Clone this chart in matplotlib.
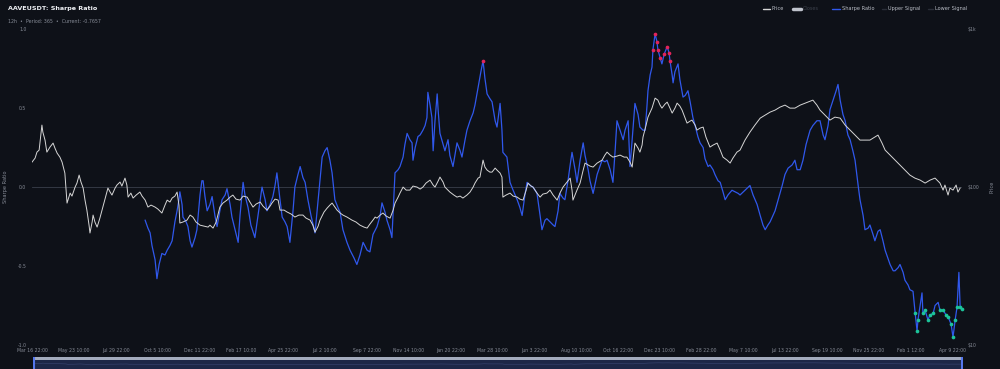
import matplotlib
matplotlib.use('Agg')
import matplotlib.pyplot as plt
from matplotlib.lines import Line2D
import numpy as np

plt.rcParams['font.family'] = ['DejaVu Sans']

# 12h bars since Mar 16 22:00
price_x = [0, 10, 16, 23, 32, 35, 42, 48, 58, 68, 74, 81, 90, 97, 106, 113, 123, 129, 139, 145,
           152, 158, 165, 171, 177, 184, 187, 194, 197, 203, 210, 219, 226, 235, 245, 252, 258, 268, 274, 284,
           290, 300, 306, 310, 319, 326, 336, 348, 355, 365, 374, 384, 397, 406, 419, 429, 436, 445, 452, 461,
           468, 474, 477, 487, 500, 510, 519, 529, 542, 555, 568, 574, 584, 594, 606, 616, 629, 639, 648, 658,
           671, 681, 694, 703, 713, 723, 736, 745, 758, 768, 774, 784, 794, 800, 813, 823, 836, 848, 861, 874,
           884, 897, 906, 913, 923, 929, 942, 952, 961, 968, 977, 984, 994, 1003, 1016, 1032, 1045, 1058, 1071, 1081,
           1090, 1100, 1107, 1113, 1123, 1132, 1142, 1155, 1165, 1171, 1181, 1187, 1197, 1207, 1219, 1229, 1242, 1252, 1261, 1271,
           1284, 1294, 1300, 1310, 1316, 1326, 1332, 1342, 1348, 1361, 1371, 1381, 1390, 1403, 1413, 1423, 1429, 1439, 1445, 1455,
           1461, 1468, 1477, 1484, 1494, 1500, 1510, 1516, 1519, 1529, 1542, 1552, 1565, 1574, 1584, 1594, 1600, 1610, 1616, 1629,
           1639, 1648, 1661, 1671, 1681, 1694, 1703, 1713, 1726, 1736, 1742, 1745, 1758, 1768, 1778, 1784, 1800, 1810, 1823, 1839,
           1848, 1855, 1865, 1874, 1887, 1897, 1910, 1919, 1929, 1936, 1945, 1955, 1961, 1968, 1971, 1981, 1987, 2000, 2010, 2019,
           2026, 2032, 2042, 2049, 2058, 2065, 2074, 2081, 2090, 2097, 2107, 2113, 2123, 2129, 2139, 2145, 2155, 2165, 2174, 2187,
           2197, 2210, 2220, 2229, 2242, 2252, 2261, 2274, 2284, 2300, 2316, 2332, 2349, 2365, 2381, 2397, 2413, 2429, 2445, 2461,
           2478, 2494, 2510, 2519, 2532, 2542, 2558, 2574, 2590, 2607, 2623, 2639, 2655, 2671, 2687, 2703, 2719, 2729, 2742, 2752,
           2768, 2784, 2800, 2816, 2832, 2848, 2865, 2881, 2897, 2913, 2929, 2939, 2945, 2955, 2961, 2971, 2981, 2987, 2994]
price = [143.9, 152.6, 166.5, 171.5, 246.9, 222.9, 198.4, 166.5, 179.2, 189.9, 176.6, 164.1, 154.8, 143.9, 122.6, 79.2, 91.6, 87.7, 100.0, 106.0,
         119.1, 107.6, 98.6, 82.7, 71.5, 57.4, 51.2, 60.1, 66.5, 60.1, 55.8, 63.6, 71.5, 82.7, 98.6, 93.0, 89.0, 98.6, 103.0, 107.6,
         101.5, 114.0, 103.0, 86.4, 91.6, 85.2, 89.0, 93.0, 87.7, 82.7, 74.7, 76.9, 74.7, 72.6, 68.5, 76.9, 82.7, 80.4, 85.2, 87.7,
         93.0, 76.9, 59.2, 60.1, 61.8, 66.5, 64.6, 60.1, 57.4, 56.6, 55.8, 57.4, 55.0, 60.1, 74.7, 79.2, 82.7, 86.4, 89.0, 83.9,
         82.7, 87.7, 86.4, 80.4, 74.7, 78.1, 80.4, 75.8, 71.5, 75.8, 79.2, 83.9, 82.7, 71.5, 71.5, 69.5, 67.5, 64.6, 66.5, 66.5,
         63.6, 61.8, 57.4, 51.9, 56.6, 61.8, 69.5, 73.6, 76.9, 79.2, 74.7, 71.5, 68.5, 66.5, 64.6, 61.8, 60.1, 57.4, 55.8, 55.0,
         58.3, 61.8, 64.6, 63.6, 66.5, 68.5, 65.6, 63.6, 71.5, 79.2, 86.4, 91.6, 100.0, 95.7, 95.7, 101.5, 100.0, 97.1, 100.0, 106.0,
         110.7, 103.0, 100.0, 109.1, 115.7, 107.6, 100.0, 95.7, 93.0, 89.0, 86.4, 87.7, 85.2, 89.0, 93.0, 100.0, 106.0, 114.0, 115.7, 148.2,
         133.9, 128.1, 124.4, 124.4, 131.9, 128.1, 122.6, 115.7, 86.4, 89.0, 91.6, 87.7, 86.4, 83.9, 82.7, 95.7, 106.0, 101.5, 100.0, 91.6,
         86.4, 90.3, 91.6, 95.7, 89.0, 82.7, 91.6, 100.0, 107.6, 114.0, 95.7, 82.7, 95.7, 106.0, 128.1, 141.9, 135.8, 133.9, 141.9, 148.2,
         159.4, 166.5, 159.4, 154.8, 157.1, 159.4, 154.8, 154.8, 143.9, 133.9, 189.9, 176.6, 166.5, 184.5, 207.3, 246.9, 277.3, 316.2, 365.8, 355.3,
         330.4, 316.2, 335.2, 345.1, 316.2, 294.1, 316.2, 340.1, 325.6, 307.2, 273.3, 254.2, 261.7, 265.5, 246.9, 229.5, 236.3, 239.8, 207.3, 179.2,
         184.5, 189.9, 171.5, 154.8, 148.2, 141.9, 152.6, 166.5, 171.5, 198.4, 222.9, 246.9, 273.3, 285.6, 298.4, 307.2, 320.9, 330.4, 316.2, 316.2,
         330.4, 340.1, 350.2, 355.3, 330.4, 307.2, 285.6, 265.5, 277.3, 273.3, 246.9, 229.5, 213.4, 198.4, 198.4, 198.4, 207.3, 213.4, 189.9, 171.5,
         159.4, 148.2, 137.8, 128.1, 119.1, 114.0, 110.7, 106.0, 110.7, 114.0, 106.0, 95.7, 103.0, 89.0, 98.6, 95.7, 103.0, 93.0, 98.6]

# sharpe starts after the 365-bar lookback
sharpe_x = [365, 374, 381, 387, 397, 403, 410, 419, 429, 436, 445, 452, 461, 468, 474, 477, 484, 487, 497, 503,
            510, 516, 526, 532, 542, 548, 552, 558, 565, 574, 581, 590, 597, 606, 613, 623, 629, 639, 645, 655,
            665, 671, 681, 687, 697, 706, 719, 729, 742, 752, 758, 768, 777, 784, 790, 800, 807, 816, 823, 832,
            842, 848, 858, 865, 874, 881, 890, 900, 913, 923, 936, 945, 952, 961, 968, 977, 987, 994, 1003, 1016,
            1026, 1039, 1048, 1058, 1068, 1081, 1090, 1100, 1113, 1123, 1129, 1139, 1145, 1155, 1161, 1171, 1181, 1187, 1197, 1203,
            1210, 1219, 1226, 1229, 1236, 1245, 1252, 1261, 1268, 1274, 1277, 1284, 1290, 1294, 1300, 1307, 1310, 1316, 1326, 1332,
            1342, 1348, 1358, 1364, 1371, 1381, 1387, 1397, 1403, 1413, 1423, 1429, 1439, 1448, 1455, 1461, 1468, 1477, 1484, 1494,
            1500, 1510, 1516, 1519, 1532, 1542, 1552, 1565, 1574, 1581, 1590, 1597, 1607, 1616, 1623, 1629, 1639, 1645, 1655, 1661,
            1671, 1681, 1687, 1697, 1703, 1713, 1719, 1729, 1736, 1742, 1752, 1758, 1768, 1778, 1784, 1794, 1800, 1810, 1823, 1839,
            1848, 1855, 1865, 1874, 1881, 1887, 1897, 1907, 1913, 1923, 1929, 1936, 1945, 1955, 1961, 1971, 1978, 1984, 1987, 1994,
            2000, 2003, 2010, 2016, 2019, 2026, 2032, 2039, 2049, 2055, 2058, 2065, 2068, 2074, 2084, 2090, 2100, 2107, 2116, 2123,
            2132, 2139, 2148, 2155, 2165, 2171, 2181, 2187, 2197, 2203, 2213, 2220, 2229, 2236, 2245, 2258, 2268, 2278, 2284, 2300,
            2316, 2326, 2339, 2349, 2358, 2365, 2374, 2381, 2390, 2397, 2407, 2420, 2429, 2439, 2452, 2461, 2468, 2478, 2487, 2497,
            2510, 2519, 2532, 2542, 2552, 2558, 2568, 2574, 2584, 2594, 2600, 2607, 2616, 2623, 2632, 2639, 2648, 2655, 2665, 2671,
            2681, 2687, 2697, 2703, 2713, 2719, 2729, 2736, 2745, 2752, 2761, 2768, 2778, 2784, 2794, 2800, 2810, 2816, 2826, 2832,
            2842, 2849, 2855, 2858, 2865, 2871, 2874, 2881, 2890, 2897, 2907, 2913, 2923, 2929, 2939, 2949, 2955, 2965, 2971, 2978,
            2984, 2990, 2994, 3000]
sharpe = [-0.21, -0.26, -0.29, -0.37, -0.46, -0.58, -0.49, -0.42, -0.43, -0.40, -0.37, -0.34, -0.22, -0.15, -0.08, -0.03, -0.11, -0.19, -0.22, -0.25,
          -0.34, -0.38, -0.32, -0.27, -0.05, 0.04, 0.04, -0.06, -0.15, -0.11, -0.06, -0.18, -0.25, -0.15, -0.08, -0.05, -0.01, -0.11, -0.19, -0.27,
          -0.35, -0.18, 0.03, -0.05, -0.13, -0.24, -0.32, -0.18, 0.00, -0.08, -0.15, -0.11, -0.06, 0.01, 0.09, -0.08, -0.19, -0.22, -0.25, -0.35,
          -0.15, 0.00, 0.08, 0.13, 0.06, 0.03, -0.08, -0.18, -0.29, -0.08, 0.19, 0.23, 0.25, 0.17, 0.09, -0.08, -0.13, -0.16, -0.27, -0.35,
          -0.40, -0.45, -0.49, -0.43, -0.35, -0.40, -0.41, -0.30, -0.25, -0.18, -0.10, -0.16, -0.21, -0.27, -0.32, 0.09, 0.11, 0.13, 0.19, 0.27,
          0.34, 0.30, 0.28, 0.17, 0.25, 0.32, 0.33, 0.36, 0.39, 0.44, 0.60, 0.52, 0.44, 0.23, 0.42, 0.59, 0.49, 0.34, 0.27, 0.23,
          0.30, 0.20, 0.13, 0.20, 0.28, 0.23, 0.19, 0.30, 0.36, 0.42, 0.47, 0.52, 0.63, 0.73, 0.80, 0.69, 0.59, 0.56, 0.54, 0.42,
          0.38, 0.53, 0.36, 0.22, 0.19, 0.03, -0.02, -0.08, -0.13, -0.18, -0.05, 0.03, 0.01, 0.00, -0.02, -0.04, -0.18, -0.27, -0.21, -0.20,
          -0.22, -0.24, -0.25, -0.15, -0.04, -0.07, -0.08, 0.04, 0.14, 0.22, 0.11, 0.03, 0.17, 0.28, 0.20, 0.11, 0.04, -0.04, 0.08, 0.17,
          0.16, 0.17, 0.11, 0.03, 0.23, 0.42, 0.36, 0.30, 0.36, 0.42, 0.13, 0.30, 0.53, 0.46, 0.38, 0.36, 0.36, 0.52, 0.61, 0.71,
          0.76, 0.87, 0.97, 0.92, 0.87, 0.82, 0.78, 0.84, 0.89, 0.85, 0.80, 0.71, 0.66, 0.73, 0.78, 0.68, 0.57, 0.58, 0.61, 0.54,
          0.44, 0.39, 0.32, 0.28, 0.25, 0.18, 0.13, 0.14, 0.11, 0.08, 0.04, 0.03, -0.03, -0.08, -0.05, -0.02, -0.03, -0.04, -0.05, -0.02,
          0.01, -0.05, -0.11, -0.18, -0.24, -0.27, -0.24, -0.22, -0.18, -0.15, -0.08, 0.01, 0.08, 0.12, 0.14, 0.17, 0.11, 0.11, 0.17, 0.27,
          0.36, 0.39, 0.42, 0.42, 0.33, 0.30, 0.39, 0.49, 0.55, 0.61, 0.65, 0.55, 0.46, 0.42, 0.33, 0.30, 0.23, 0.17, 0.01, -0.08,
          -0.18, -0.27, -0.26, -0.24, -0.30, -0.34, -0.28, -0.27, -0.34, -0.40, -0.45, -0.49, -0.53, -0.53, -0.51, -0.49, -0.54, -0.59, -0.62, -0.65,
          -0.66, -0.80, -0.91, -0.84, -0.75, -0.67, -0.80, -0.78, -0.84, -0.81, -0.80, -0.75, -0.73, -0.78, -0.78, -0.81, -0.82, -0.87, -0.95, -0.84,
          -0.76, -0.54, -0.76, -0.77]

upper_level = 0.78
lower_level = -0.75

tick_pos = [0, 135, 270, 405, 540, 675, 810, 945, 1080, 1215, 1350, 1485, 1620, 1755, 1890, 2025, 2160,
            2295, 2430, 2565, 2700, 2835, 2970]
tick_labels = ['Mar 16 22:00', 'May 23 10:00', 'Jul 29 22:00', 'Oct 5 10:00', 'Dec 11 22:00', 'Feb 17 10:00',
               'Apr 25 22:00', 'Jul 2 10:00', 'Sep 7 22:00', 'Nov 14 10:00', 'Jan 20 22:00', 'Mar 28 10:00',
               'Jun 3 22:00', 'Aug 10 10:00', 'Oct 16 22:00', 'Dec 23 10:00', 'Feb 28 22:00', 'May 7 10:00',
               'Jul 13 22:00', 'Sep 19 10:00', 'Nov 25 22:00', 'Feb 1 12:00', 'Apr 9 22:00']

BG = '#0e1118'
GREY = '#868b96'
BLUE = '#3058ec'
WHITE = '#d6d6d6'
RED = '#e3245a'
TEAL = '#1cc49a'

fig = plt.figure(figsize=(10, 3.69), dpi=100, facecolor=BG)
ax = fig.add_axes([0.032, 0.065, 0.93, 0.856])
ax.set_facecolor(BG)

sx = np.array(sharpe_x)
sv = np.array(sharpe)
ax.axhline(0, color='#3a3f4b', lw=0.6, zorder=1)
ax.plot(sx, sv, color=BLUE, lw=0.9, zorder=2)
up = sv > upper_level
lo = sv < lower_level
ax.scatter(sx[up], sv[up], s=7, color=RED, zorder=4, clip_on=False, linewidths=0)
ax.scatter(sx[lo], sv[lo], s=7, color=TEAL, zorder=4, clip_on=False, linewidths=0)

ax.set_xlim(0, 3000)
ax.set_ylim(-1, 1)
ax.set_yticks([-1, -0.5, 0, 0.5, 1])
ax.set_yticklabels(['-1.0', '-0.5', '0.0', '0.5', '1.0'])
ax.set_xticks(tick_pos)
ax.set_xticklabels(tick_labels)
ax.tick_params(axis='both', length=0, labelsize=3.3, colors=GREY)
ax.tick_params(axis='x', pad=2.5)
ax.tick_params(axis='y', pad=4)
for s in ax.spines.values():
    s.set_visible(False)

ax2 = ax.twinx()
ax2.plot(price_x, price, color=WHITE, lw=0.7, zorder=3)
ax2.set_yscale('log')
ax2.set_ylim(10, 1000)
ax2.set_yticks([10, 100, 1000])
ax2.set_yticklabels(['$10', '$100', '$1k'])
ax2.yaxis.set_minor_locator(matplotlib.ticker.NullLocator())
ax2.tick_params(axis='y', length=0, labelsize=3.3, colors=GREY, pad=4)
for s in ax2.spines.values():
    s.set_visible(False)

fig.text(0.006, 0.493, 'Sharpe Ratio', color=GREY, fontsize=3.6, rotation=90, ha='center', va='center')
fig.text(0.992, 0.493, 'Price', color=GREY, fontsize=3.6, rotation=90, ha='center', va='center')

# navigator strip
nav = fig.add_axes([0.033, 0.0, 0.93, 0.033])
nav.set_facecolor('#1d2747')
nav.set_xlim(0, 3000)
nav.axhspan(0.72, 1.0, color='#a3abbd', lw=0)
nav.plot(price_x, np.log10(price) / 3.0 * 0.6, color='#34406a', lw=0.5)
nav.set_ylim(0, 1)
nav.set_xticks([])
nav.set_yticks([])
for s in nav.spines.values():
    s.set_visible(False)
nav.axvline(3, color='#5577ee', lw=1.5)
nav.axvline(2997, color='#5577ee', lw=1.5)

# header
fig.text(0.008, 0.977, 'AAVEUSDT: Sharpe Ratio', color='#eef0f4', fontsize=4.6, fontweight='bold', va='center')
fig.text(0.008, 0.942, '12h  \u2022  Period: 365  \u2022  Current: -0.7657', color=GREY, fontsize=3.4, va='center')

# legend
leg_y = 0.976
items = [(0.763, 0.772, 'Price', WHITE, 1.0), (0.793, 0.803, 'Closes', '#bfc3cc', 2.5),
         (0.832, 0.842, 'Sharpe Ratio', BLUE, 1.0), (0.882, 0.888, 'Upper Signal', '#2a2e38', 1.0),
         (0.928, 0.935, 'Lower Signal', '#2a2e38', 1.0)]
for x0, xt, label, col, lw in items:
    fig.add_artist(Line2D([x0, xt - 0.002], [leg_y, leg_y], color=col, lw=lw,
                          transform=fig.transFigure, solid_capstyle='round'))
    tcol = '#3c414c' if label == 'Closes' else '#b9bdc6'
    fig.text(xt, leg_y, label, color=tcol, fontsize=3.6, va='center')

fig.savefig('out.png', dpi=100, facecolor=BG)
